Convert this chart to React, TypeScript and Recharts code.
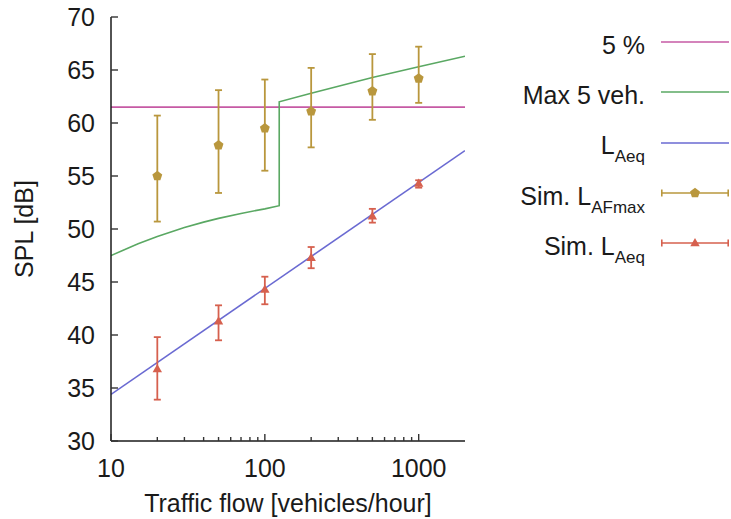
import {
  ComposedChart,
  Line,
  Scatter,
  ErrorBar,
  XAxis,
  YAxis,
  Legend,
} from "recharts";

const FONT = '"Liberation Sans", Arial, Helvetica, sans-serif';
const INK = "#1a1a1a";
const TICK = "#333";
const FS = 25;

const C_FIVE = "#c65aa4";
const C_MAX5 = "#5aa863";
const C_LAEQ = "#6a6ad2";
const C_AFMAX = "#b9973d";
const C_SIM = "#d6604e";

// x ticks (log axis) and y ticks
const xMajor = [10, 100, 1000];
const xTicks = [10, 20, 30, 40, 50, 60, 70, 80, 90, 100, 200, 300, 400, 500, 600, 700, 800, 900, 1000];
const yTicks = [30, 35, 40, 45, 50, 55, 60, 65, 70];

// simulated points
const simFlows = [20, 50, 100, 200, 500, 1000];
const afmax = [55.0, 57.9, 59.5, 61.1, 63.0, 64.2];
const afmaxLow = [50.7, 53.4, 55.5, 57.7, 60.3, 61.9];
const afmaxHigh = [60.7, 63.1, 64.1, 65.2, 66.5, 67.2];
const laeqSim = [36.8, 41.3, 44.3, 47.3, 51.2, 54.3];
const laeqSimLow = [33.9, 39.5, 42.9, 46.3, 50.6, 53.9];
const laeqSimHigh = [39.8, 42.8, 45.5, 48.3, 51.9, 54.6];

// curves
const fiveFlows = [10, 2000];
const fiveVals = [61.5, 61.5];
const max5Flows = [10, 12, 15, 20, 30, 40, 50, 70, 100, 124, 124, 200, 500, 1000, 2000];
const max5Vals = [47.5, 48.0, 48.6, 49.3, 50.15, 50.65, 51.0, 51.47, 51.9, 52.2, 62.0, 62.8, 64.3, 65.3, 66.3];
const laeqFlows = [10, 2000];
const laeqVals = [34.4, 57.4];

const toRows = (xs: number[], ys: number[]) => xs.map((flow, i) => ({ flow, v: ys[i] }));
const toErrRows = (xs: number[], ys: number[], lo: number[], hi: number[]) =>
  xs.map((flow, i) => ({ flow, v: ys[i], err: [ys[i] - lo[i], hi[i] - ys[i]] }));

const fiveData = toRows(fiveFlows, fiveVals);
const max5Data = toRows(max5Flows, max5Vals);
const laeqData = toRows(laeqFlows, laeqVals);
const afmaxData = toErrRows(simFlows, afmax, afmaxLow, afmaxHigh);
const simData = toErrRows(simFlows, laeqSim, laeqSimLow, laeqSimHigh);

const tickLen = (v: number) => (xMajor.includes(v) ? 7 : 4);

function BottomTick({ x, y, payload }: any) {
  const v = payload.value;
  return (
    <g>
      <line x1={x} y1={y} x2={x} y2={y - tickLen(v)} stroke={TICK} strokeWidth={1.4} />
      {xMajor.includes(v) && (
        <text x={x} y={y + 36} textAnchor="middle" fontSize={FS} fontFamily={FONT} fill={INK}>
          {v}
        </text>
      )}
    </g>
  );
}

function TopTick({ x, y, payload }: any) {
  return <line x1={x} y1={y} x2={x} y2={y + tickLen(payload.value)} stroke={TICK} strokeWidth={1.4} />;
}

function LeftTick({ x, y, payload }: any) {
  return (
    <g>
      <line x1={x} y1={y} x2={x + 7} y2={y} stroke={TICK} strokeWidth={1.4} />
      <text x={x - 16} y={y} dy="0.36em" textAnchor="end" fontSize={FS} fontFamily={FONT} fill={INK}>
        {payload.value}
      </text>
    </g>
  );
}

function RightTick({ x, y }: any) {
  return <line x1={x} y1={y} x2={x - 7} y2={y} stroke={TICK} strokeWidth={1.4} />;
}

function Pentagon({ cx, cy }: any) {
  const r = 5.2;
  const pts = [0, 1, 2, 3, 4]
    .map((k) => {
      const a = ((-90 + k * 72) * Math.PI) / 180;
      return `${cx + r * Math.cos(a)},${cy + r * Math.sin(a)}`;
    })
    .join(" ");
  return <polygon points={pts} fill={C_AFMAX} />;
}

function Triangle({ cx, cy }: any) {
  return <polygon points={`${cx},${cy - 5} ${cx + 4.7},${cy + 3.3} ${cx - 4.7},${cy + 3.3}`} fill={C_SIM} />;
}

const L = (sub: string) => (
  <span>
    L<span style={{ fontSize: 17, position: "relative", top: 8 }}>{sub}</span>
  </span>
);

const legendItems = [
  { label: <span>5 %</span>, color: C_FIVE, kind: "line" },
  { label: <span>Max 5 veh.</span>, color: C_MAX5, kind: "line" },
  { label: L("Aeq"), color: C_LAEQ, kind: "line" },
  { label: <span>Sim. {L("AFmax")}</span>, color: C_AFMAX, kind: "pent" },
  { label: <span>Sim. {L("Aeq")}</span>, color: C_SIM, kind: "tri" },
];

function LegendBox() {
  return (
    <div style={{ fontFamily: FONT, fontSize: FS, color: INK }}>
      {legendItems.map((it, i) => (
        <div key={i} style={{ display: "flex", alignItems: "center", height: 50.3 }}>
          <div style={{ width: 166, textAlign: "right", position: "relative", top: 3, whiteSpace: "nowrap" }}>
            {it.label}
          </div>
          <svg width={70} height={20} style={{ marginLeft: 16, overflow: "visible" }}>
            <line x1={0} y1={10} x2={68} y2={10} stroke={it.color} strokeWidth={1.6} />
            {it.kind !== "line" && (
              <g stroke={it.color} strokeWidth={1.6}>
                <line x1={0.8} y1={6.5} x2={0.8} y2={13.5} />
                <line x1={67.2} y1={6.5} x2={67.2} y2={13.5} />
              </g>
            )}
            {it.kind === "pent" && <Pentagon cx={34} cy={10} />}
            {it.kind === "tri" && <Triangle cx={34} cy={10} />}
          </svg>
        </div>
      ))}
    </div>
  );
}

const axisLine = { stroke: INK, strokeWidth: 1.5 };

export default function App() {
  return (
    <div style={{ position: "absolute", left: 0, top: 0, background: "#fff" }}>
      <ComposedChart width={731} height={519} margin={{ top: 17, right: 266, bottom: 0, left: 0 }}>
        <XAxis
          dataKey="flow"
          type="number"
          scale="log"
          domain={[10, 2000]}
          allowDataOverflow
          ticks={xTicks}
          interval={0}
          tick={(p: any) => <BottomTick {...p} />}
          tickLine={false}
          tickSize={0}
          tickMargin={0}
          axisLine={axisLine}
          height={78}
          label={({ viewBox }: any) => (
            <text
              x={viewBox.x + viewBox.width / 2}
              y={viewBox.y + 71}
              textAnchor="middle"
              fontSize={FS}
              fontFamily={FONT}
              fill={INK}
            >
              Traffic flow [vehicles/hour]
            </text>
          )}
        />
        <XAxis
          xAxisId="top"
          orientation="top"
          dataKey="flow"
          type="number"
          scale="log"
          domain={[10, 2000]}
          allowDataOverflow
          ticks={xTicks}
          interval={0}
          tick={(p: any) => <TopTick {...p} />}
          tickLine={false}
          tickSize={0}
          tickMargin={0}
          axisLine={axisLine}
          height={0}
        />
        <YAxis
          dataKey="v"
          type="number"
          domain={[30, 70]}
          allowDataOverflow
          ticks={yTicks}
          interval={0}
          tick={(p: any) => <LeftTick {...p} />}
          tickLine={false}
          tickSize={0}
          tickMargin={0}
          axisLine={axisLine}
          width={111}
          label={({ viewBox }: any) => {
            const cx = viewBox.x + 33;
            const cy = viewBox.y + viewBox.height / 2;
            return (
              <text
                x={cx}
                y={cy}
                transform={`rotate(-90 ${cx} ${cy})`}
                textAnchor="middle"
                fontSize={FS}
                fontFamily={FONT}
                fill={INK}
              >
                SPL [dB]
              </text>
            );
          }}
        />
        <YAxis
          yAxisId="right"
          orientation="right"
          type="number"
          domain={[30, 70]}
          allowDataOverflow
          ticks={yTicks}
          interval={0}
          tick={(p: any) => <RightTick {...p} />}
          tickLine={false}
          tickSize={0}
          tickMargin={0}
          axisLine={axisLine}
          width={0}
        />
        <Line data={fiveData} dataKey="v" stroke={C_FIVE} strokeWidth={1.6} dot={false} type="linear" isAnimationActive={false} />
        <Line data={max5Data} dataKey="v" stroke={C_MAX5} strokeWidth={1.6} dot={false} type="linear" isAnimationActive={false} />
        <Line data={laeqData} dataKey="v" stroke={C_LAEQ} strokeWidth={1.6} dot={false} type="linear" isAnimationActive={false} />
        <Scatter data={afmaxData} dataKey="v" shape={<Pentagon />} isAnimationActive={false}>
          <ErrorBar dataKey="err" direction="y" width={3.5} stroke={C_AFMAX} strokeWidth={1.8} isAnimationActive={false} />
        </Scatter>
        <Scatter data={simData} dataKey="v" shape={<Triangle />} isAnimationActive={false}>
          <ErrorBar dataKey="err" direction="y" width={3.5} stroke={C_SIM} strokeWidth={1.8} isAnimationActive={false} />
        </Scatter>
        <Legend
          layout="horizontal"
          align="center"
          verticalAlign="middle"
          content={() => <LegendBox />}
          wrapperStyle={{ left: 480, top: 17, width: 251 }}
        />
      </ComposedChart>
    </div>
  );
}
